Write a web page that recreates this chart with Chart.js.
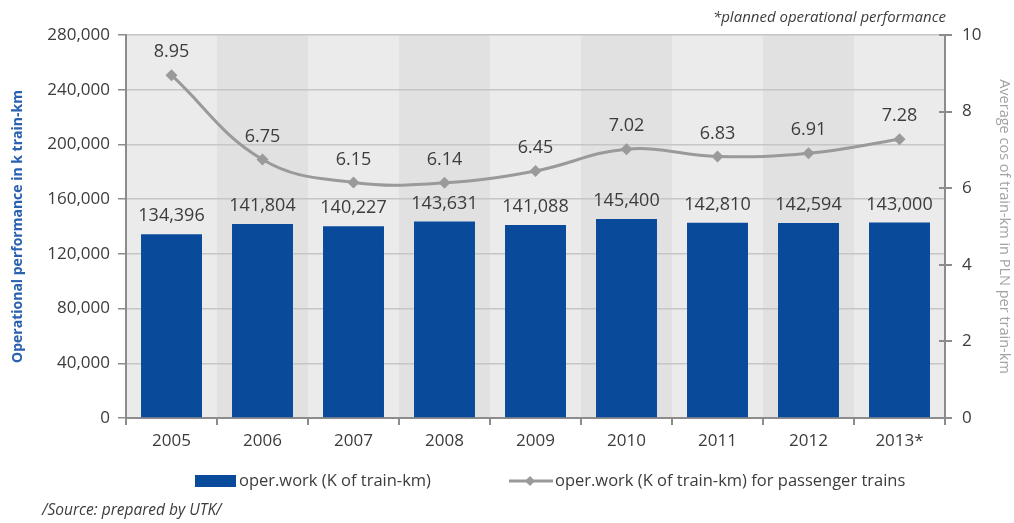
<!DOCTYPE html>
<html>
<head>
<meta charset="utf-8">
<script src="https://cdn.jsdelivr.net/npm/chart.js@4.4.1/dist/chart.umd.min.js"></script>
<style>
  html, body { margin: 0; padding: 0; background: #ffffff; }
  #wrap { width: 1014px; height: 523px; position: relative; }
</style>
</head>
<body>
<div id="wrap"><canvas id="chart" width="1014" height="523"></canvas></div>
<script>
// Years on the category axis (2013 is the planned figure)
const years = ['2005', '2006', '2007', '2008', '2009', '2010', '2011', '2012', '2013*'];
// Operational work, thousand train-km
const operWork = [134396, 141804, 140227, 143631, 141088, 145400, 142810, 142594, 143000];
// Average cost of a train-km for passenger trains, PLN
const avgCost = [8.95, 6.75, 6.15, 6.14, 6.45, 7.02, 6.83, 6.91, 7.28];
// Axis tick settings
const leftTicks = { min: 0, max: 280000, step: 40000 };
const rightTicks = { min: 0, max: 10, step: 2 };

const FONT = "'Open Sans', 'DejaVu Sans', sans-serif";
const TEXT = '#3c3c3c';
const AXIS = '#8c8c8c';

const fmt = v => v.toLocaleString('en-US');

// Alternating vertical bands behind the plot
const bandsPlugin = {
  id: 'bands',
  beforeDraw(chart) {
    const { ctx, chartArea: a, scales: { x } } = chart;
    const n = x.ticks.length;
    const w = (a.right - a.left) / n;
    ctx.save();
    for (let i = 0; i < n; i++) {
      ctx.fillStyle = i % 2 ? '#e1e1e1' : '#ebebeb';
      ctx.fillRect(a.left + i * w, a.top, w + 0.5, a.bottom - a.top);
    }
    ctx.restore();
  }
};

// Value labels above bars and points
const valueLabels = {
  id: 'valueLabels',
  afterDatasetsDraw(chart) {
    const { ctx } = chart;
    ctx.save();
    ctx.font = `18px ${FONT}`;
    ctx.fillStyle = TEXT;
    ctx.textAlign = 'center';
    ctx.textBaseline = 'middle';
    chart.getDatasetMeta(0).data.forEach((el, i) => {
      ctx.fillText(fmt(operWork[i]), el.x, el.y - 18);
    });
    chart.getDatasetMeta(1).data.forEach((el, i) => {
      ctx.fillText(avgCost[i].toFixed(2), el.x, el.y - 23);
    });
    ctx.restore();
  }
};

// Legend, note and source line
const extras = {
  id: 'extras',
  afterDraw(chart) {
    const { ctx } = chart;
    const ds = chart.data.datasets;
    ctx.save();
    ctx.textBaseline = 'middle';
    ctx.textAlign = 'left';
    ctx.font = `16.5px ${FONT}`;
    const ly = 481;
    // bar entry
    ctx.fillStyle = ds[0].backgroundColor;
    ctx.fillRect(195, ly - 6, 41, 12);
    ctx.fillStyle = TEXT;
    ctx.fillText(ds[0].label, 239, ly);
    // line entry
    ctx.strokeStyle = ds[1].borderColor;
    ctx.lineWidth = 3;
    ctx.beginPath();
    ctx.moveTo(509, ly);
    ctx.lineTo(553, ly);
    ctx.stroke();
    ctx.fillStyle = ds[1].borderColor;
    ctx.beginPath();
    ctx.moveTo(530, ly - 5);
    ctx.lineTo(535, ly);
    ctx.lineTo(530, ly + 5);
    ctx.lineTo(525, ly);
    ctx.closePath();
    ctx.fill();
    ctx.fillStyle = TEXT;
    ctx.fillText(ds[1].label, 555, ly);
    // note
    ctx.font = `italic 15px ${FONT}`;
    ctx.textAlign = 'right';
    ctx.fillText('*planned operational performance', 946, 18);
    // source
    ctx.font = `italic 15.5px ${FONT}`;
    ctx.textAlign = 'left';
    ctx.fillText('/Source: prepared by UTK/', 42, 511);
    ctx.restore();
  }
};

// Right-axis tick marks cross the axis line slightly into the plot
const rightTickInner = {
  id: 'rightTickInner',
  afterDraw(chart) {
    const { ctx, scales: { y1 } } = chart;
    ctx.save();
    ctx.strokeStyle = AXIS;
    ctx.lineWidth = 2;
    y1.ticks.forEach(t => {
      const py = Math.round(y1.getPixelForValue(t.value));
      ctx.beginPath();
      ctx.moveTo(y1.left - 6, py);
      ctx.lineTo(y1.left, py);
      ctx.stroke();
    });
    ctx.restore();
  }
};

new Chart(document.getElementById('chart'), {
  data: {
    labels: years,
    datasets: [
      {
        type: 'bar',
        label: 'oper.work (K of train-km)',
        data: operWork,
        yAxisID: 'y',
        backgroundColor: '#0a4a9b',
        barPercentage: 0.67,
        categoryPercentage: 1.0,
        order: 2
      },
      {
        type: 'line',
        label: 'oper.work (K of train-km) for passenger trains',
        data: avgCost,
        yAxisID: 'y1',
        borderColor: '#9a9a9a',
        backgroundColor: '#9a9a9a',
        borderWidth: 3,
        tension: 0.4,
        pointStyle: 'rectRot',
        pointRadius: 6,
        pointBorderWidth: 0,
        order: 1
      }
    ]
  },
  options: {
    responsive: false,
    animation: false,
    events: [],
    layout: { padding: { left: 0, right: 0, top: 35, bottom: 75 } },
    plugins: { legend: { display: false }, tooltip: { enabled: false } },
    scales: {
      x: {
        offset: true,
        grid: { offset: true, drawOnChartArea: false, tickLength: 7, color: AXIS, lineWidth: 2 },
        border: { color: AXIS, width: 2 },
        ticks: { color: TEXT, font: { family: FONT, size: 17 }, padding: 6, maxRotation: 0 },
        afterFit(s) { s.height = 30; }
      },
      y: {
        position: 'left',
        min: leftTicks.min, max: leftTicks.max,
        ticks: { stepSize: leftTicks.step, color: TEXT, font: { family: FONT, size: 17 }, padding: 8,
                 callback: v => fmt(v) },
        grid: { color: '#c6c6c6', lineWidth: 1.5, tickColor: AXIS, tickLength: 8 },
        border: { color: AXIS, width: 2 },
        title: { display: true, text: 'Operational performance in k train-km', color: '#2a62b0',
                 font: { family: FONT, size: 14, weight: 'bold' }, padding: { top: 10, bottom: 0 } },
        afterFit(s) { s.width = 126; }
      },
      y1: {
        position: 'right',
        min: rightTicks.min, max: rightTicks.max,
        ticks: { stepSize: rightTicks.step, color: TEXT, font: { family: FONT, size: 17 }, padding: 10 },
        grid: { drawOnChartArea: false, color: AXIS, lineWidth: 2, tickLength: 7 },
        border: { color: AXIS, width: 2 },
        title: { display: true, text: 'Average cos of train-km in PLN per train-km', color: '#a3a3a3',
                 font: { family: FONT, size: 14.5 }, padding: { top: 1, bottom: 0 } },
        afterFit(s) { s.width = 69; }
      }
    }
  },
  plugins: [bandsPlugin, valueLabels, extras, rightTickInner]
});
</script>
</body>
</html>
